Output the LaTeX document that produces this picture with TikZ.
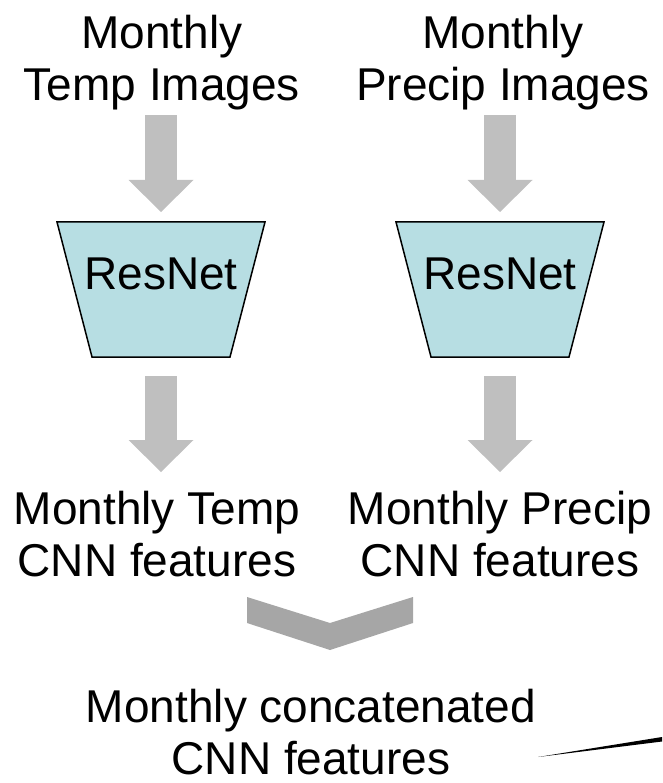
\documentclass[tikz,border=0pt]{standalone}
\usepackage{fontspec}
\setmainfont{Liberation Sans}
\usetikzlibrary{arrows.meta}

\definecolor{netfill}{HTML}{B7DEE3}
\definecolor{arrowgray}{HTML}{BFBFBF}
\definecolor{mergegray}{HTML}{A6A6A6}

\pgfdeclarelayer{background}
\pgfsetlayers{background,main}

\tikzset{
  bigfont/.style={font=\fontsize{46}{52.5}\selectfont},
  lbl/.style={bigfont, align=center, inner sep=0pt, outer sep=0pt, anchor=north},
  % box of a network: its text sits on the centre line
  resnet/.style={minimum width=208pt, minimum height=135pt,
    inner sep=0pt, outer sep=0pt, text height=0pt, text depth=0pt, bigfont},
  netshape/.style={draw=black, line width=1.5pt, fill=netfill, line join=miter},
  blockarrow/.style={draw=arrowgray, line width=32pt,
    -{Triangle[width=65pt, length=32pt, line width=0pt, fill=arrowgray]}},
}

% funnel outline (wide at the top) round a resnet node
\newcommand\funnel[1]{%
  \begin{pgfonlayer}{background}
    \filldraw[netshape] (#1.north west) -- (#1.north east)
      -- ([xshift=-35pt]#1.south east) -- ([xshift=35pt]#1.south west) -- cycle;
  \end{pgfonlayer}}

\begin{document}
\begin{tikzpicture}[x=1pt, y=-1pt]
  \useasboundingbox (0,0) rectangle (662,783);

  % inputs
  \node[lbl] (tempimg) at (162,15) {Monthly\\Temp Images};
  \node[lbl] (precimg) at (503,15) {Monthly\\Precip Images};

  % the two networks
  \node[resnet] (resT) at (161,289.5) {\makebox[0pt]{ResNet}};
  \node[resnet] (resP) at (500,289.5) {\makebox[0pt]{ResNet}};
  \funnel{resT}
  \funnel{resP}

  % per-variable features
  \node[lbl] (tempfeat) at (157,491) {Monthly Temp\\CNN features};
  \node[lbl] (precfeat) at (500,491) {Monthly Precip\\CNN features};

  % merged features
  \node[lbl] (concat) at (311,689) {Monthly concatenated\\CNN features};

  % block arrows into and out of the networks
  \draw[blockarrow, shorten <=5pt, shorten >=10pt]
    (resT.north |- tempimg.south) -- (resT.north);
  \draw[blockarrow, shorten <=5pt, shorten >=10pt]
    (resP.north |- precimg.south) -- (resP.north);
  \draw[blockarrow, shorten <=19pt, shorten >=19pt]
    (resT.south) -- (resT.south |- tempfeat.north);
  \draw[blockarrow, shorten <=19pt, shorten >=19pt]
    (resP.south) -- (resP.south |- precfeat.north);

  % chevron joining the two feature sets
  \coordinate (merge) at (330,623);
  \fill[mergegray, shift={(merge)}]
    (-83,-26) -- (0,0) -- (83,-26) -- (83,0) -- (0,27) -- (-83,0) -- cycle;

  % thin wedge entering at the lower right edge
  \fill[black] (538,757) -- (662,737) -- (662,741.5) -- cycle;
\end{tikzpicture}
\end{document}
